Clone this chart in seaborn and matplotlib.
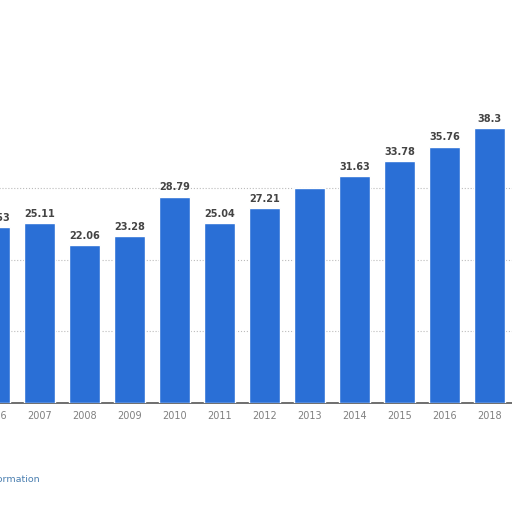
import pandas as pd
import matplotlib.pyplot as plt
import seaborn as sns

years = ['2006', '2007', '2008', '2009', '2010', '2011', '2012',
         '2013', '2014', '2015', '2016', '2018']
values = [24.53, 25.11, 22.06, 23.28, 28.79, 25.04, 27.21,
          29.96, 31.63, 33.78, 35.76, 38.3]
labels = ['24.53', '25.11', '22.06', '23.28', '28.79', '25.04', '27.21',
          '', '31.63', '33.78', '35.76', '38.3']

df = pd.DataFrame({'Year': years, 'Value': values})

sns.set_style("white")
plt.rcParams['font.family'] = ['DejaVu Sans']

fig = plt.figure(figsize=(5.12, 5.12), dpi=100)
# axes reach a little past the left edge so the first bar is cut like the reference
ax = fig.add_axes([-30 / 512, 109 / 512, 542 / 512, 303 / 512])

sns.barplot(x='Year', y='Value', data=df, color='#2a6fd6', saturation=1,
            width=0.69, ax=ax, zorder=3)

for c in ax.containers:
    ax.bar_label(c, labels=labels, padding=3, fontsize=7,
                 fontweight='bold', color='#444444')

ax.set_xlim(-0.544, 11.5)
ax.set_ylim(0, 42.26)
ax.set_yticks([10, 20, 30])
ax.yaxis.grid(True, linestyle=':', color='#bbbbbb', linewidth=0.8, zorder=0)
ax.tick_params(axis='y', left=False, labelleft=False)
ax.tick_params(axis='x', length=0, labelsize=7, labelcolor='#808080', pad=6)
ax.set_xlabel('')
ax.set_ylabel('')
for s in ['top', 'right', 'left']:
    ax.spines[s].set_visible(False)
ax.spines['bottom'].set_color('#555555')
ax.spines['bottom'].set_linewidth(1.2)

fig.text(40 / 512, 1 - 479 / 512, 'Additional Information', ha='right',
         va='center', fontsize=6.8, color='#4a7fb0')

fig.savefig('out.png', dpi=100)
